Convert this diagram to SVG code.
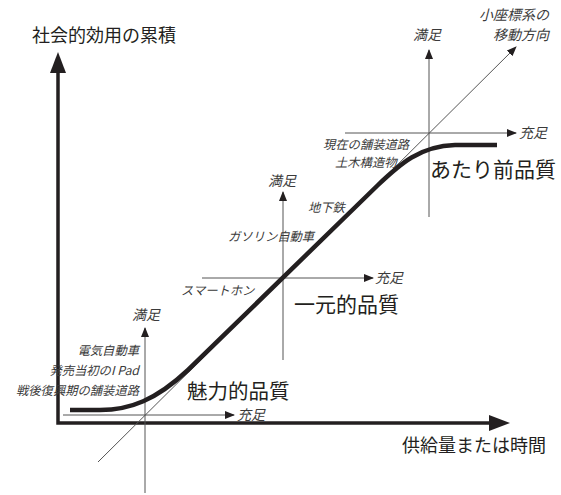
<svg xmlns="http://www.w3.org/2000/svg" width="561" height="495" viewBox="0 0 561 495">
<defs>
<style>
.axis{fill:none;stroke:#231f20;stroke-width:3.5}
.thin{fill:none;stroke:#555;stroke-width:1}
.curve{fill:none;stroke:#231f20;stroke-width:4.5;stroke-linecap:butt}
.big{font-family:"Noto Sans CJK JP","Noto Sans",sans-serif;fill:#231f20}
.sm{font-family:"Noto Sans CJK JP","Noto Sans",sans-serif;fill:#3a3a3a;font-style:italic;font-size:12.3px}
.ax{font-family:"Noto Sans CJK JP","Noto Sans",sans-serif;fill:#3a3a3a;font-style:italic;font-size:14px}
</style>
<marker id="ah" markerWidth="10" markerHeight="10" viewBox="0 0 10 10" refX="9" refY="5" orient="auto" markerUnits="userSpaceOnUse">
<path d="M0,1 L10,5 L0,9 Z" fill="#231f20"/>
</marker>
</defs>
<rect width="561" height="495" fill="#fff"/>

<g id="connectors">
<path class="axis" d="M58,72 L58,423 L490,423"/>
<polygon points="58,52 50,73 66,73" fill="#231f20"/>
<polygon points="510,423 489,415 489,431" fill="#231f20"/>
<line class="thin" x1="98" y1="462" x2="516" y2="47" marker-end="url(#ah)"/>
</g>

<g id="system1">
<line class="thin" x1="145" y1="493" x2="145" y2="328" marker-end="url(#ah)"/>
<line class="thin" x1="63" y1="415" x2="234" y2="415" marker-end="url(#ah)"/>
<text class="ax" x="132" y="320">満足</text>
<text class="ax" x="237" y="420">充足</text>
</g>

<g id="system2">
<line class="thin" x1="283" y1="360" x2="283" y2="192" marker-end="url(#ah)"/>
<line class="thin" x1="202" y1="278" x2="373" y2="278" marker-end="url(#ah)"/>
<text class="ax" x="268" y="186">満足</text>
<text class="ax" x="375" y="283">充足</text>
</g>

<g id="system3">
<line class="thin" x1="429" y1="217" x2="429" y2="50" marker-end="url(#ah)"/>
<line class="thin" x1="345" y1="133" x2="516" y2="133" marker-end="url(#ah)"/>
<text class="ax" x="413" y="40">満足</text>
<text class="ax" x="519" y="138">充足</text>
<text class="ax" x="549" y="20" text-anchor="end">小座標系の</text>
<text class="ax" x="549" y="40" text-anchor="end">移動方向</text>
</g>

<g id="curve">
<path class="curve" d="M70,410 L100,410 C130,410 156,400 188,370 L378,185 C400,164 420,146 455,145 L497,145"/>
</g>

<g id="labels">
<text class="big" x="32" y="42" font-size="18">社会的効用の累積</text>
<text class="big" x="402" y="452" font-size="18">供給量または時間</text>
<text class="big" x="294" y="312" font-size="21">一元的品質</text>
<text class="big" x="430" y="177" font-size="21">あたり前品質</text>
<text class="big" x="187" y="399" font-size="20.5">魅力的品質</text>
<text class="sm" x="139" y="355" text-anchor="end">電気自動車</text>
<text class="sm" x="139" y="375" text-anchor="end">発売当初のI Pad</text>
<text class="sm" x="139" y="395" text-anchor="end">戦後復興期の舗装道路</text>
<text class="sm" x="323" y="149">現在の舗装道路</text>
<text class="sm" x="335" y="167">土木構造物</text>
<text class="sm" x="308" y="212">地下鉄</text>
<text class="sm" x="228" y="241">ガソリン自動車</text>
<text class="sm" x="181" y="295">スマートホン</text>
</g>
</svg>
